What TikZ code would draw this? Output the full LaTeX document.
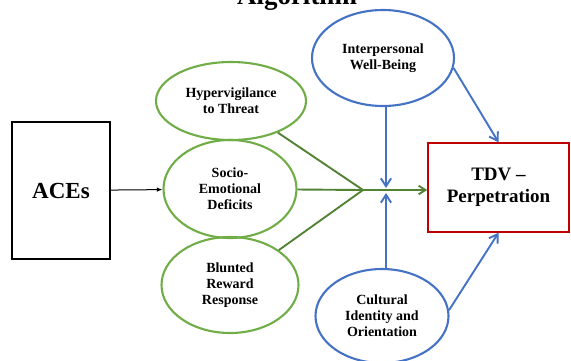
\documentclass[tikz,border=0pt]{standalone}
\usepackage{fontspec}
\setmainfont{Liberation Serif}
\usepackage{xcolor}
\definecolor{LeafGreen}{HTML}{70AD47}
\definecolor{DarkGreen}{HTML}{548235}
\definecolor{SteelBlue}{HTML}{4472C4}
\definecolor{BoxRed}{HTML}{C00000}
\usetikzlibrary{arrows.meta,positioning,shapes.geometric}

\begin{document}
\begin{tikzpicture}[x=1pt, y=-1pt, every node/.style={font=\bfseries\fontsize{14}{15.8}\selectfont, align=center}]
\tikzset{oval/.style={draw, ellipse, line width=2.1pt, inner sep=0pt}}
\tikzset{green oval/.style={oval, draw=LeafGreen}}
\tikzset{blue oval/.style={oval, draw=SteelBlue}}
\tikzset{link/.style={draw=DarkGreen, line width=1.9pt}}
\tikzset{blue arrow/.style={draw=SteelBlue, line width=1.9pt, -{Straight Barb[length=2.8mm, width=3.6mm]}}}
\clip (0,0) rectangle (571,360);
\node[anchor=base, font=\bfseries\fontsize{27}{30}\selectfont] (title) at (297,4) {Algorithm};
% exposure and mediators
\node[draw, line width=1.2pt, minimum width=98pt, minimum height=137pt, font=\bfseries\fontsize{23}{26}\selectfont] (aces) at (61,190.5) {ACEs};
\node[green oval, minimum width=150pt, minimum height=78pt] (hyper) at (231,101) {Hypervigilance\\to Threat};
\node[green oval, minimum width=133pt, minimum height=98pt] (socio) at (230,189) {Socio-\\Emotional\\Deficits};
\node[green oval, minimum width=137pt, minimum height=96pt] (blunted) at (230,285) {Blunted\\Reward\\Response};
% moderators and outcome
\node[blue oval, minimum width=142pt, minimum height=96pt] (interp) at (383,58) {Interpersonal\\Well-Being};
\node[blue oval, minimum width=133pt, minimum height=94pt] (cultural) at (382,316) {Cultural\\Identity and\\Orientation};
\node[draw=BoxRed, line width=1.5pt, minimum width=141pt, minimum height=89pt, font=\bfseries\fontsize{19}{22}\selectfont] (tdv) at (498.5,187.5) {TDV --\\Perpetration};
\coordinate (junction) at (363,190);
\coordinate (top meet) at (386,188);
\coordinate (bot meet) at (386,193);
\draw[line width=1pt, -{Latex[length=2mm, width=1.6mm]}] (aces) -- (socio);
\draw[link] (hyper) -- (junction);
\draw[link] (socio) -- (junction);
\draw[link] (blunted) -- (junction);
\draw[link, -{Straight Barb[length=2.4mm, width=3mm]}] (junction) -- (junction -| tdv.west);
\draw[blue arrow] (interp.south -| top meet) -- (top meet);
\draw[blue arrow] (cultural.north -| bot meet) -- (bot meet);
\draw[blue arrow] (interp.-8) -- (tdv.north);
\draw[blue arrow] (cultural.5) -- (tdv.south);
\end{tikzpicture}
\end{document}
